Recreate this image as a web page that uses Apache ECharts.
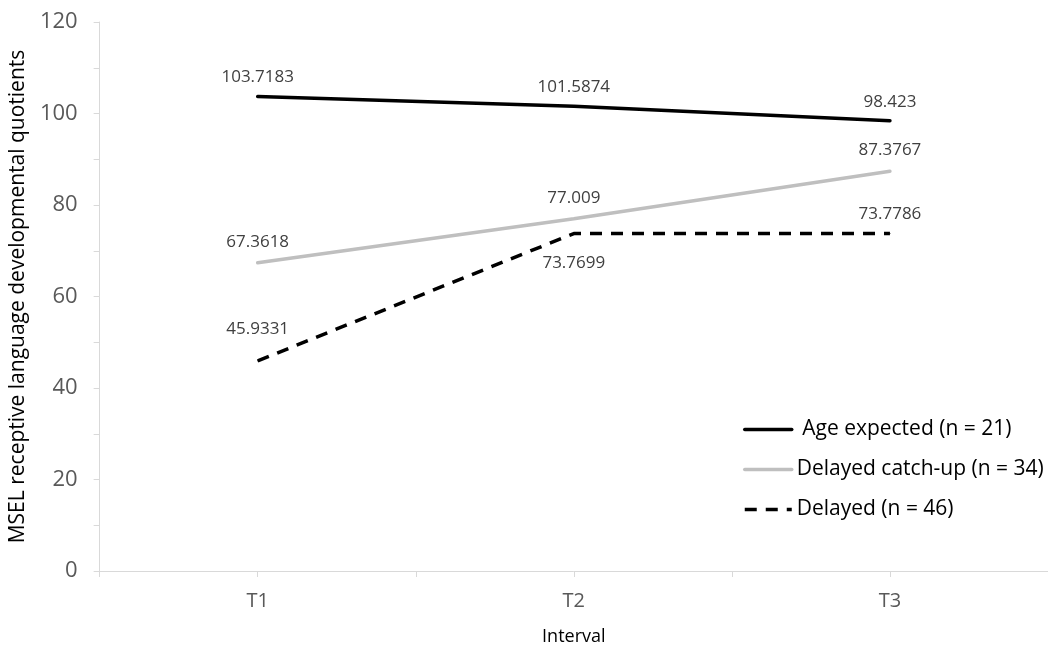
<!DOCTYPE html>
<html>
<head>
<meta charset="utf-8">
<script src="https://cdn.jsdelivr.net/npm/echarts@6/dist/echarts.min.js"></script>
<style>
html,body{margin:0;padding:0;background:#fff;}
#chart{width:1048px;height:651px;}
</style>
</head>
<body>
<div id="chart"></div>
<script>
const categories = ['T1', 'T2', 'T3'];
const ageExpected = [103.7183, 101.5874, 98.423];
const delayedCatchUp = [67.3618, 77.009, 87.3767];
const delayed = [45.9331, 73.7699, 73.7786];
const seriesNames = ['Age expected (n = 21)', 'Delayed catch-up (n = 34)', 'Delayed (n = 46)'];
const yTicks = [0, 20, 40, 60, 80, 100, 120];

const FONT = 'Open Sans';
const chart = echarts.init(document.getElementById('chart'), null, {renderer: 'canvas'});

function lbl(pos, dist) {
  return {show: true, position: pos, distance: dist, color: '#404040', fontSize: 17, fontFamily: FONT, opacity: 1};
}

chart.setOption({
  backgroundColor: '#ffffff',
  animation: false,
  textStyle: {fontFamily: FONT},
  grid: {left: 99, right: -10, top: 22, bottom: 78, containLabel: false},
  legend: {
    orient: 'vertical', left: 738, top: 414, itemWidth: 47, itemHeight: 14, itemGap: 19,
    textStyle: {fontSize: 21, color: '#000', fontFamily: FONT},
    itemStyle: {opacity: 0},
    lineStyle: {width: 'inherit'},
    formatter: function (n) { return n === seriesNames[0] ? ' ' + n : n; },
    data: seriesNames
  },
  xAxis: [{
    type: 'category', data: categories, boundaryGap: true,
    axisLine: {show: true, lineStyle: {color: '#d9d9d9', width: 1}},
    axisTick: {show: false},
    axisLabel: {color: '#595959', fontSize: 20, margin: 20, fontFamily: FONT},
    name: 'Interval', nameLocation: 'middle', nameGap: 57,
    nameTextStyle: {color: '#000', fontSize: 18, fontFamily: FONT}
  }, {
    type: 'value', min: 0, max: 6, interval: 1, position: 'bottom',
    axisLine: {show: false}, axisLabel: {show: false}, splitLine: {show: false},
    axisTick: {show: true, length: 6, lineStyle: {color: '#d9d9d9'}}
  }],
  yAxis: {
    type: 'value', min: yTicks[0], max: yTicks[yTicks.length - 1], interval: 20,
    axisLine: {show: true, lineStyle: {color: '#d9d9d9', width: 1}},
    axisTick: {show: true, length: 6, lineStyle: {color: '#d9d9d9'}},
    minorTick: {show: true, splitNumber: 2, length: 6, lineStyle: {color: '#d9d9d9'}},
    splitLine: {show: false},
    axisLabel: {color: '#595959', fontSize: 22, margin: 22, fontFamily: FONT},
    name: 'MSEL receptive language developmental quotients', nameLocation: 'middle', nameGap: 64,
    nameTextStyle: {color: '#000', fontSize: 21, fontFamily: FONT}
  },
  series: [{
    name: seriesNames[0], type: 'line', data: ageExpected, symbol: 'circle', symbolSize: 1, showSymbol: true,
    lineStyle: {color: '#000000', width: 3.5, cap: 'round'}, itemStyle: {color: '#000000'},
    label: lbl('top', 10)
  }, {
    name: seriesNames[1], type: 'line', data: delayedCatchUp, symbol: 'circle', symbolSize: 1, showSymbol: true,
    lineStyle: {color: '#bfbfbf', width: 3.5, cap: 'round'}, itemStyle: {color: '#bfbfbf'},
    label: lbl('top', 12)
  }, {
    name: seriesNames[2], type: 'line', symbol: 'circle', symbolSize: 1, showSymbol: true,
    data: [
      {value: delayed[0], label: lbl('top', 23)},
      {value: delayed[1], label: lbl('bottom', 21)},
      {value: delayed[2], label: lbl('top', 10)}
    ],
    lineStyle: {color: '#000000', width: 3.5, type: [12, 9]}, itemStyle: {color: '#000000'},
    label: lbl('top', 10)
  }]
});
</script>
</body>
</html>
